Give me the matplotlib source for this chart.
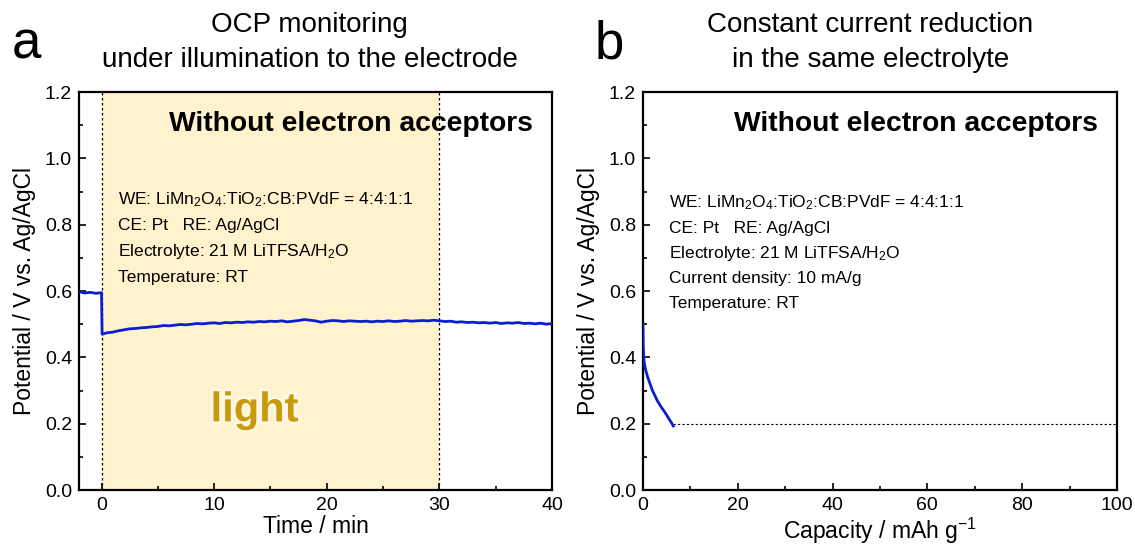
import matplotlib
matplotlib.use("Agg")
import matplotlib.pyplot as plt
import matplotlib.patheffects as pe
from matplotlib.ticker import MultipleLocator

plt.rcParams['font.family'] = ['Liberation Sans', 'DejaVu Sans']
plt.rcParams['mathtext.default'] = 'regular'

# ---- (a) OCP under illumination ----
ocp_time = [-2.0, -1.5, -1.0, -0.5, 0.0, 0.05, 0.5, 1.0, 1.5, 2.0, 2.5, 3.0, 3.5, 4.0,
            4.5, 5.0, 5.5, 6.0, 6.5, 7.0, 7.5, 8.0, 8.5, 9.0, 9.5, 10.0, 10.5, 11.0,
            11.5, 12.0, 12.5, 13.0, 13.5, 14.0, 14.5, 15.0, 15.5, 16.0, 16.5, 17.0,
            17.5, 18.0, 18.5, 19.0, 19.5, 20.0, 20.5, 21.0, 21.5, 22.0, 22.5, 23.0,
            23.5, 24.0, 24.5, 25.0, 25.5, 26.0, 26.5, 27.0, 27.5, 28.0, 28.5, 29.0,
            29.5, 30.0, 30.5, 31.0, 31.5, 32.0, 32.5, 33.0, 33.5, 34.0, 34.5, 35.0,
            35.5, 36.0, 36.5, 37.0, 37.5, 38.0, 38.5, 39.0, 39.5, 40.0]
ocp_pot = [0.598, 0.594, 0.596, 0.593, 0.595, 0.470, 0.474, 0.476, 0.480, 0.483, 0.486,
           0.487, 0.489, 0.490, 0.492, 0.493, 0.496, 0.495, 0.497, 0.499, 0.498, 0.500,
           0.502, 0.501, 0.503, 0.504, 0.502, 0.505, 0.504, 0.506, 0.505, 0.507, 0.506,
           0.508, 0.507, 0.509, 0.508, 0.510, 0.507, 0.509, 0.511, 0.514, 0.512, 0.510,
           0.506, 0.509, 0.511, 0.510, 0.508, 0.510, 0.509, 0.508, 0.509, 0.507, 0.509,
           0.508, 0.510, 0.508, 0.509, 0.511, 0.509, 0.510, 0.511, 0.510, 0.512, 0.510,
           0.508, 0.509, 0.506, 0.507, 0.505, 0.506, 0.504, 0.505, 0.503, 0.505, 0.502,
           0.504, 0.503, 0.505, 0.502, 0.503, 0.501, 0.503, 0.500, 0.502]
light_on, light_off = 0, 30

# ---- (b) constant current reduction ----
cap = [0.0, 0.05, 0.15, 0.3, 0.6, 1.0, 1.5, 2.0, 2.5, 3.0, 3.5, 4.0, 4.5, 5.0, 5.5, 6.0, 6.4]
cap_pot = [0.50, 0.44, 0.40, 0.38, 0.36, 0.34, 0.32, 0.30, 0.285, 0.27, 0.258, 0.247,
           0.237, 0.226, 0.214, 0.203, 0.193]
cutoff = 0.2

conditions_a = [r'WE: LiMn$_2$O$_4$:TiO$_2$:CB:PVdF = 4:4:1:1',
                'CE: Pt   RE: Ag/AgCl',
                r'Electrolyte: 21 M LiTFSA/H$_2$O',
                'Temperature: RT']
conditions_b = [r'WE: LiMn$_2$O$_4$:TiO$_2$:CB:PVdF = 4:4:1:1',
                'CE: Pt   RE: Ag/AgCl',
                r'Electrolyte: 21 M LiTFSA/H$_2$O',
                'Current density: 10 mA/g',
                'Temperature: RT']

LINE = '#0a1ecf'

fig = plt.figure(figsize=(11.35, 5.47), dpi=100)
ax1 = fig.add_axes([0.0696, 0.1042, 0.4167, 0.7276])
ax2 = fig.add_axes([0.5665, 0.1042, 0.4176, 0.7276])


def style(ax):
    for s in ax.spines.values():
        s.set_linewidth(1.6)
    ax.tick_params(which='both', direction='in', labelsize=14, width=1.2, top=False, right=False)
    ax.tick_params(which='major', length=5, pad=5)
    ax.tick_params(which='minor', length=3)
    ax.set_ylim(0, 1.2)
    ax.yaxis.set_major_locator(MultipleLocator(0.2))
    ax.yaxis.set_minor_locator(MultipleLocator(0.1))
    ax.yaxis.set_major_formatter(plt.FormatStrFormatter('%.1f'))
    ax.set_ylabel('Potential / V vs. Ag/AgCl', fontsize=16.5, labelpad=6)
    ax.text(0.576, 0.92, 'Without electron acceptors', transform=ax.transAxes,
            ha='center', va='center', fontsize=20.3, fontweight='bold')


# panel a
style(ax1)
ax1.axvspan(light_on, light_off, color='#fff2cc', zorder=0, lw=0)
for xv in (light_on, light_off):
    ax1.axvline(xv, color='black', ls=(0, (2, 2)), lw=0.9, zorder=1)
ax1.plot(ocp_time, ocp_pot, color=LINE, lw=2, zorder=3)
ax1.set_xlim(-2, 40)
ax1.xaxis.set_major_locator(MultipleLocator(10))
ax1.xaxis.set_minor_locator(MultipleLocator(5))
ax1.set_xlabel('Time / min', fontsize=16.5, labelpad=1)
for i, line in enumerate(conditions_a):
    ax1.text(0.083, 0.7286 - i * 0.0646, line, transform=ax1.transAxes,
             fontsize=12.5, va='center')
ax1.text(13.6, 0.24, 'light', ha='center', va='center', fontsize=30,
         fontweight='bold', color='#c89a0c',
         path_effects=[pe.withStroke(linewidth=4, foreground='#fff8e6')])

# panel b
style(ax2)
ax2.plot([cap[-1], 100], [cutoff, cutoff], color='black', ls=(0, (2, 2)), lw=0.8, zorder=1)
ax2.plot(cap, cap_pot, color=LINE, lw=2, zorder=3)
ax2.set_xlim(0, 100)
ax2.xaxis.set_major_locator(MultipleLocator(20))
ax2.xaxis.set_minor_locator(MultipleLocator(10))
ax2.set_xlabel(r'Capacity / mAh g$^{-1}$', fontsize=16.5, labelpad=1)
for i, line in enumerate(conditions_b):
    ax2.text(0.055, 0.721 - i * 0.063, line, transform=ax2.transAxes,
             fontsize=12.5, va='center')

# titles and panel letters
fig.text(0.273, 0.978, 'OCP monitoring\nunder illumination to the electrode',
         ha='center', va='top', fontsize=20, linespacing=1.45)
fig.text(0.767, 0.978, 'Constant current reduction\nin the same electrolyte',
         ha='center', va='top', fontsize=20, linespacing=1.45)
fig.text(0.023, 0.918, 'a', ha='center', va='center', fontsize=38)
fig.text(0.537, 0.918, 'b', ha='center', va='center', fontsize=38)

fig.savefig('out.png', dpi=100)
